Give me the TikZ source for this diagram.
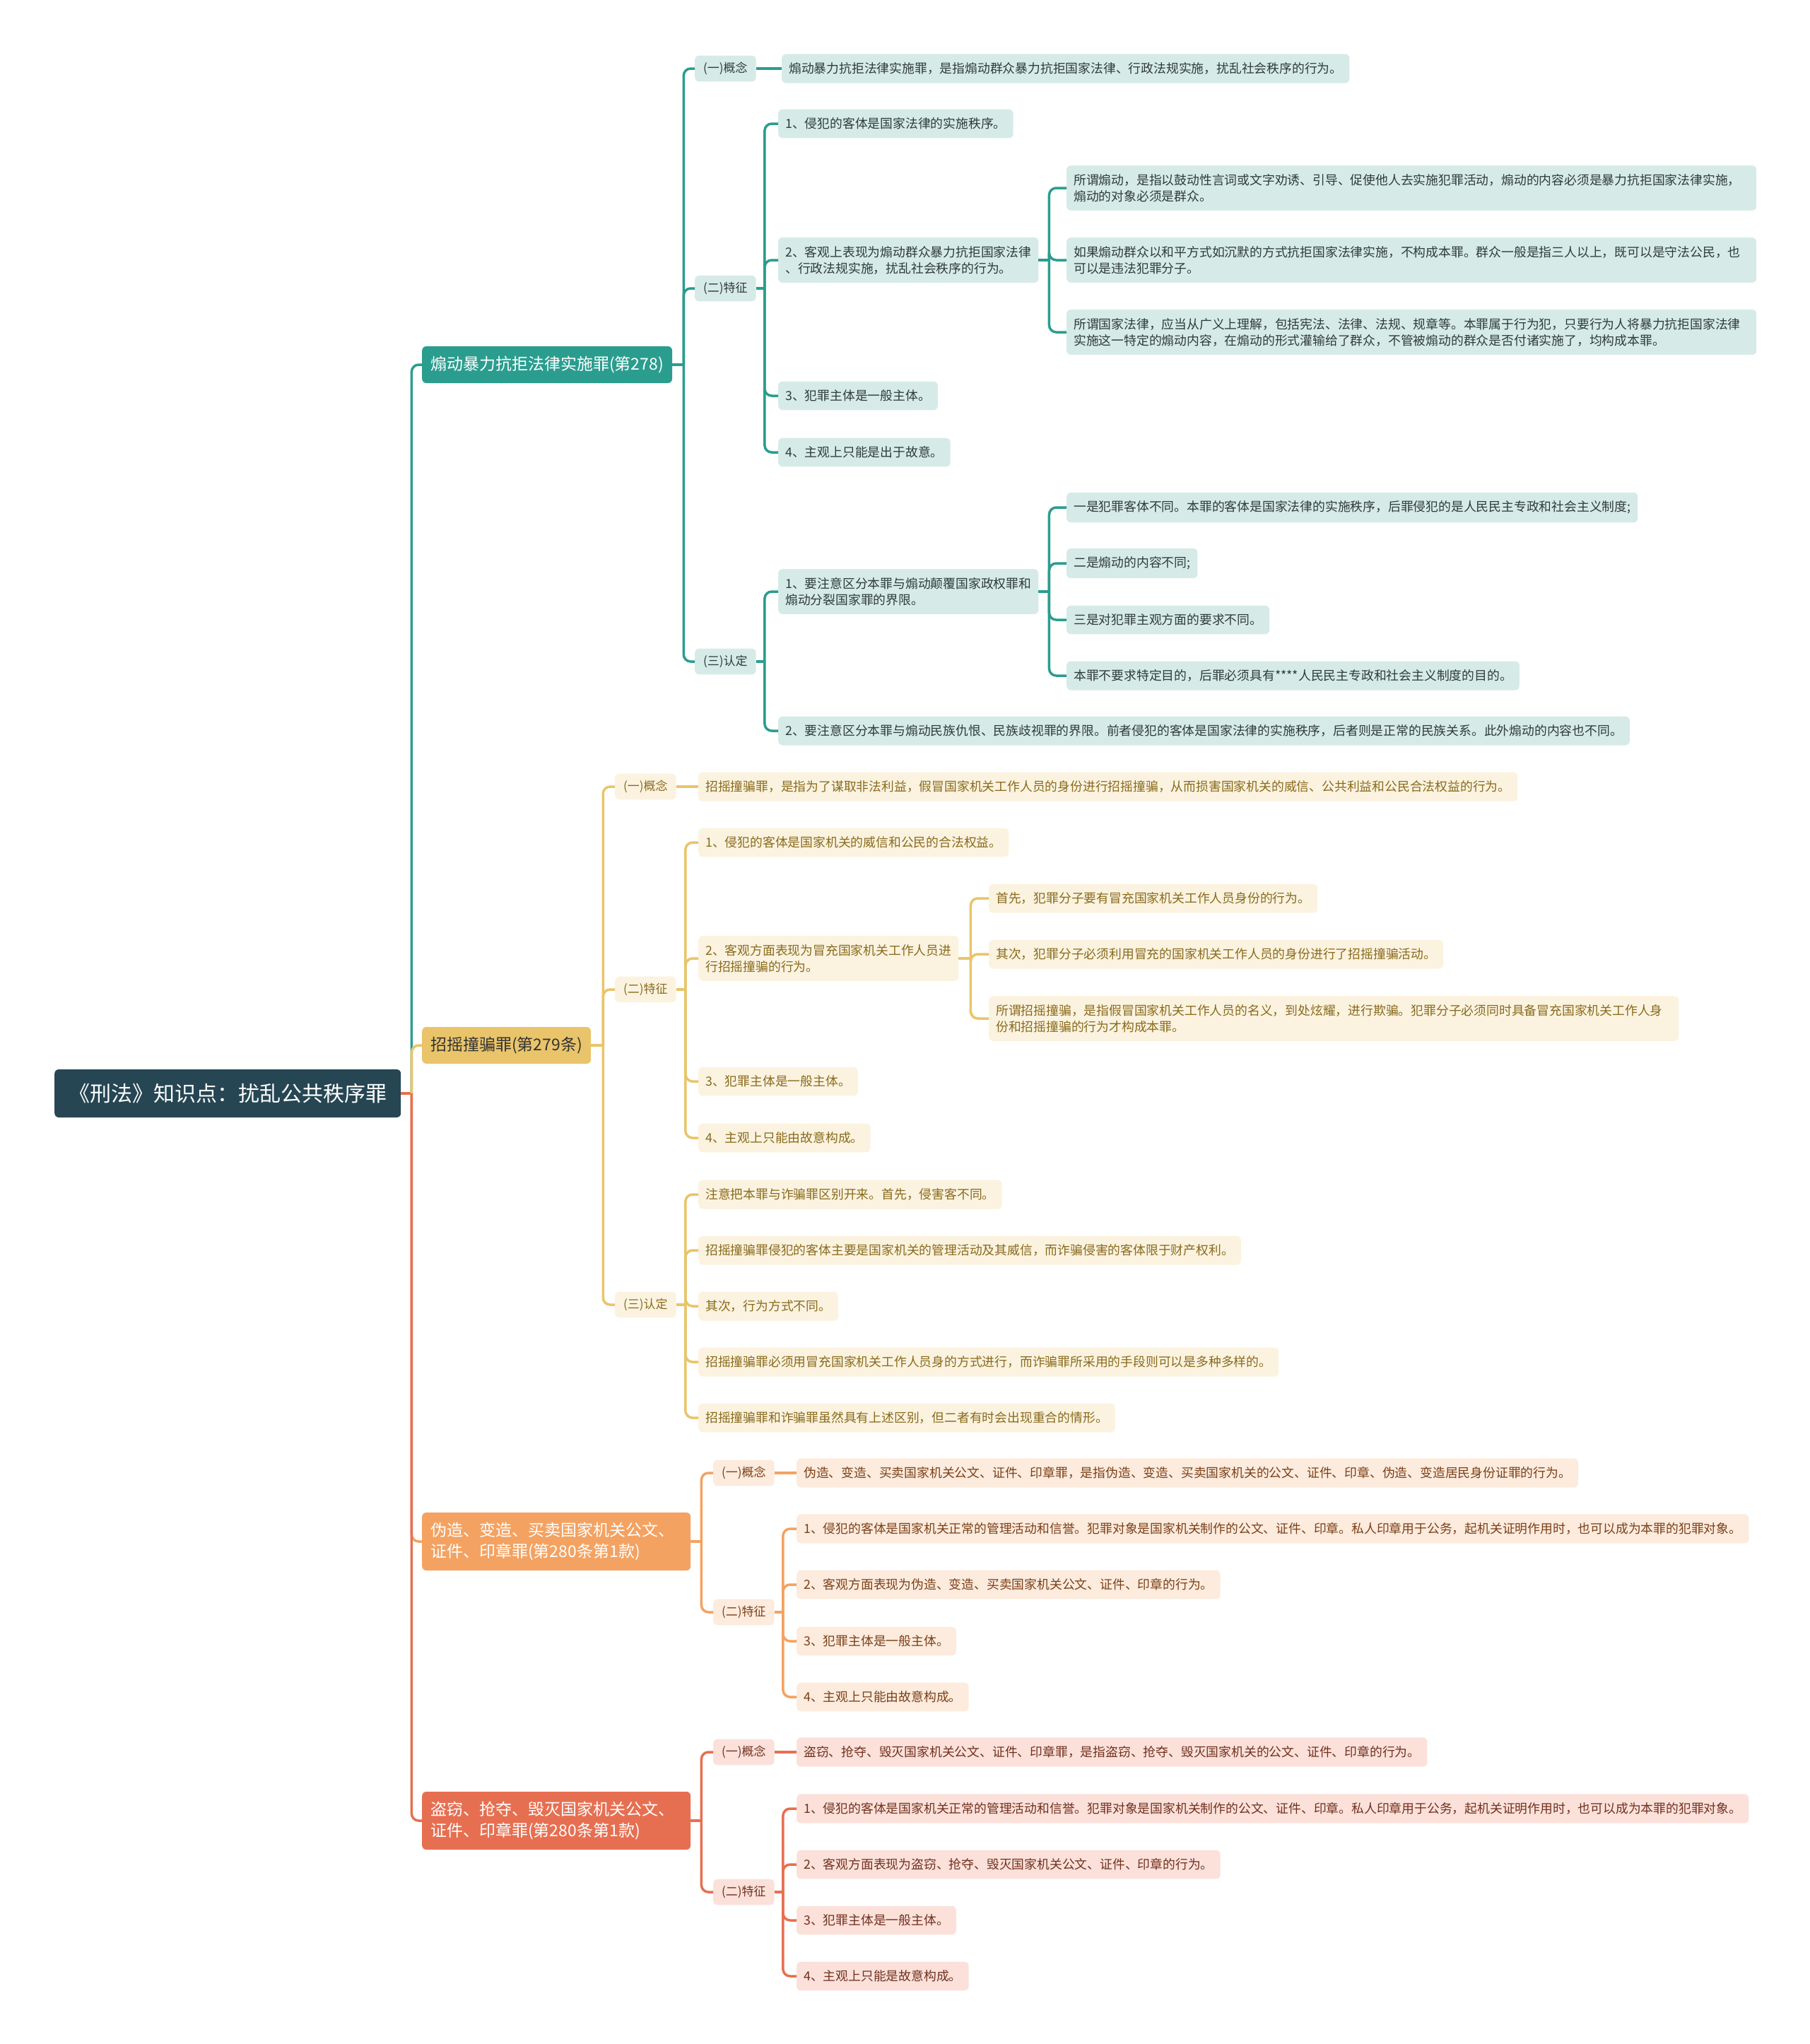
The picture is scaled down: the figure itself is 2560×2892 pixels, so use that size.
\documentclass[tikz,border=0pt]{standalone}
\usepackage{fontspec}
\setmainfont{Noto Sans CJK SC}
\usepackage{xcolor}

\definecolor{rootc}{HTML}{264653}
\definecolor{tealc}{HTML}{2A9D8F}
\definecolor{goldc}{HTML}{E9C46A}
\definecolor{orangec}{HTML}{F4A261}
\definecolor{redc}{HTML}{E76F51}
\definecolor{tealfill}{HTML}{D6EBE8}
\definecolor{goldfill}{HTML}{FBF3E0}
\definecolor{orangefill}{HTML}{FDEBDD}
\definecolor{redfill}{HTML}{FBE1DA}
\definecolor{tealtext}{HTML}{2F3B3A}
\definecolor{goldtext}{HTML}{8A6A1C}
\definecolor{orangetext}{HTML}{7A4019}
\definecolor{redtext}{HTML}{72301F}

\begin{document}
\begin{tikzpicture}[x=1pt, y=-1pt,
  box/.style={rounded corners=6pt, anchor=west, align=left},
  rootbox/.style={box, fill=rootc, text=white, font=\fontsize{30}{36}\selectfont, inner xsep=20pt, inner ysep=20pt},
  topic/.style={box, font=\fontsize{23}{30}\selectfont, inner xsep=12pt, inner ysep=14pt},
  tag/.style={box, font=\fontsize{17}{22}\selectfont, inner xsep=12pt, inner ysep=9.5pt},
  leaf/.style={box, font=\fontsize{17.8}{23}\selectfont, inner xsep=10pt, inner ysep=12pt},
  wide/.style={text width=956pt},
  teal/.style={fill=tealfill, text=tealtext},
  gold/.style={fill=goldfill, text=goldtext},
  orange/.style={fill=orangefill, text=orangetext},
  red/.style={fill=redfill, text=redtext},
  link/.style={line width=3.5pt, rounded corners=10pt},
]
\useasboundingbox (0,0) rectangle (2560,2892);

  % Root
  \node[rootbox] (root) at (77, 1547) {《刑法》知识点：扰乱公共秩序罪};

  % Four branches
  \node[topic, fill=tealc, text=white] (b1) at (597, 516) {煽动暴力抗拒法律实施罪(第278)};
  \node[topic, fill=goldc, text=black!80] (b2) at (597, 1479) {招摇撞骗罪(第279条)};
  \node[topic, fill=orangec, text=white, text width=356pt] (b3) at (597, 2181) {伪造、变造、买卖国家机关公文、\\证件、印章罪(第280条第1款)};
  \node[topic, fill=redc, text=white, text width=356pt] (b4) at (597, 2576) {盗窃、抢夺、毁灭国家机关公文、\\证件、印章罪(第280条第1款)};

  \draw[link, redc] (root.east) -- ++(15,0) coordinate (jr);
  \draw[link, tealc] (jr) |- (b1.west);
  \draw[link, goldc] (jr) |- (b2.west);
  \draw[link, orangec] (jr) |- (b3.west);
  \draw[link, redc] (jr) |- (b4.west);

  % Branch 1
  \node[tag, teal] (b1t1) at (983, 97) {(一)概念};
  \node[tag, teal] (b1t2) at (983, 408) {(二)特征};
  \node[tag, teal] (b1t3) at (983, 936) {(三)认定};
  \node[leaf, teal] (b1c) at (1106, 97) {煽动暴力抗拒法律实施罪，是指煽动群众暴力抗拒国家法律、行政法规实施，扰乱社会秩序的行为。};
  \node[leaf, teal] (b1f1) at (1101, 175) {1、侵犯的客体是国家法律的实施秩序。};
  \node[leaf, teal] (b1f2) at (1101, 368) {2、客观上表现为煽动群众暴力抗拒国家法律\\、行政法规实施，扰乱社会秩序的行为。};
  \node[leaf, teal] (b1f3) at (1101, 560) {3、犯罪主体是一般主体。};
  \node[leaf, teal] (b1f4) at (1101, 640) {4、主观上只能是出于故意。};
  \node[leaf, teal, wide] (b1s1) at (1509, 266) {所谓煽动，是指以鼓动性言词或文字劝诱、引导、促使他人去实施犯罪活动，煽动的内容必须是暴力抗拒国家法律实施，\\煽动的对象必须是群众。};
  \node[leaf, teal, wide] (b1s2) at (1509, 368) {如果煽动群众以和平方式如沉默的方式抗拒国家法律实施，不构成本罪。群众一般是指三人以上，既可以是守法公民，也\\可以是违法犯罪分子。};
  \node[leaf, teal, wide] (b1s3) at (1509, 470) {所谓国家法律，应当从广义上理解，包括宪法、法律、法规、规章等。本罪属于行为犯，只要行为人将暴力抗拒国家法律\\实施这一特定的煽动内容，在煽动的形式灌输给了群众，不管被煽动的群众是否付诸实施了，均构成本罪。};
  \node[leaf, teal] (b1r1) at (1101, 837) {1、要注意区分本罪与煽动颠覆国家政权罪和\\煽动分裂国家罪的界限。};
  \node[leaf, teal] (b1r2) at (1101, 1034) {2、要注意区分本罪与煽动民族仇恨、民族歧视罪的界限。前者侵犯的客体是国家法律的实施秩序，后者则是正常的民族关系。此外煽动的内容也不同。};
  \node[leaf, teal] (b1d1) at (1509, 718) {一是犯罪客体不同。本罪的客体是国家法律的实施秩序，后罪侵犯的是人民民主专政和社会主义制度;};
  \node[leaf, teal] (b1d2) at (1509, 797) {二是煽动的内容不同;};
  \node[leaf, teal] (b1d3) at (1509, 877) {三是对犯罪主观方面的要求不同。};
  \node[leaf, teal] (b1d4) at (1509, 956) {本罪不要求特定目的，后罪必须具有****人民民主专政和社会主义制度的目的。};

  \draw[link, tealc] (b1.east) -- ++(16,0) coordinate (j1);
  \foreach \c in {b1t1,b1t2,b1t3} \draw[link, tealc] (j1) |- (\c.west);
  \draw[link, tealc] (b1t1.east) -- (b1c.west);
  \draw[link, tealc] (b1t2.east) -- ++(12,0) coordinate (j12);
  \foreach \c in {b1f1,b1f2,b1f3,b1f4} \draw[link, tealc] (j12) |- (\c.west);
  \draw[link, tealc] (b1f2.east) -- ++(15,0) coordinate (j122);
  \foreach \c in {b1s1,b1s2,b1s3} \draw[link, tealc] (j122) |- (\c.west);
  \draw[link, tealc] (b1t3.east) -- ++(12,0) coordinate (j13);
  \foreach \c in {b1r1,b1r2} \draw[link, tealc] (j13) |- (\c.west);
  \draw[link, tealc] (b1r1.east) -- ++(15,0) coordinate (j131);
  \foreach \c in {b1d1,b1d2,b1d3,b1d4} \draw[link, tealc] (j131) |- (\c.west);

  % Branch 2
  \node[tag, gold] (b2t1) at (870, 1113) {(一)概念};
  \node[tag, gold] (b2t2) at (870, 1400) {(二)特征};
  \node[tag, gold] (b2t3) at (870, 1846) {(三)认定};
  \node[leaf, gold] (b2c) at (988, 1113) {招摇撞骗罪，是指为了谋取非法利益，假冒国家机关工作人员的身份进行招摇撞骗，从而损害国家机关的威信、公共利益和公民合法权益的行为。};
  \node[leaf, gold] (b2f1) at (988, 1192) {1、侵犯的客体是国家机关的威信和公民的合法权益。};
  \node[leaf, gold] (b2f2) at (988, 1356) {2、客观方面表现为冒充国家机关工作人员进\\行招摇撞骗的行为。};
  \node[leaf, gold] (b2f3) at (988, 1530) {3、犯罪主体是一般主体。};
  \node[leaf, gold] (b2f4) at (988, 1610) {4、主观上只能由故意构成。};
  \node[leaf, gold] (b2s1) at (1399, 1271) {首先，犯罪分子要有冒充国家机关工作人员身份的行为。};
  \node[leaf, gold] (b2s2) at (1399, 1350) {其次，犯罪分子必须利用冒充的国家机关工作人员的身份进行了招摇撞骗活动。};
  \node[leaf, gold, wide] (b2s3) at (1399, 1441) {所谓招摇撞骗，是指假冒国家机关工作人员的名义，到处炫耀，进行欺骗。犯罪分子必须同时具备冒充国家机关工作人身\\份和招摇撞骗的行为才构成本罪。};
  \node[leaf, gold] (b2r1) at (988, 1690) {注意把本罪与诈骗罪区别开来。首先，侵害客不同。};
  \node[leaf, gold] (b2r2) at (988, 1769) {招摇撞骗罪侵犯的客体主要是国家机关的管理活动及其威信，而诈骗侵害的客体限于财产权利。};
  \node[leaf, gold] (b2r3) at (988, 1848) {其次，行为方式不同。};
  \node[leaf, gold] (b2r4) at (988, 1927) {招摇撞骗罪必须用冒充国家机关工作人员身的方式进行，而诈骗罪所采用的手段则可以是多种多样的。};
  \node[leaf, gold] (b2r5) at (988, 2006) {招摇撞骗罪和诈骗罪虽然具有上述区别，但二者有时会出现重合的情形。};

  \draw[link, goldc] (b2.east) -- ++(17,0) coordinate (j2);
  \foreach \c in {b2t1,b2t2,b2t3} \draw[link, goldc] (j2) |- (\c.west);
  \draw[link, goldc] (b2t1.east) -- (b2c.west);
  \draw[link, goldc] (b2t2.east) -- ++(13,0) coordinate (j22);
  \foreach \c in {b2f1,b2f2,b2f3,b2f4} \draw[link, goldc] (j22) |- (\c.west);
  \draw[link, goldc] (b2f2.east) -- ++(17,0) coordinate (j222);
  \foreach \c in {b2s1,b2s2,b2s3} \draw[link, goldc] (j222) |- (\c.west);
  \draw[link, goldc] (b2t3.east) -- ++(13,0) coordinate (j23);
  \foreach \c in {b2r1,b2r2,b2r3,b2r4,b2r5} \draw[link, goldc] (j23) |- (\c.west);

  % Branch 3
  \node[tag, orange] (b3t1) at (1009, 2084) {(一)概念};
  \node[tag, orange] (b3t2) at (1009, 2281) {(二)特征};
  \node[leaf, orange] (b3c) at (1127, 2084) {伪造、变造、买卖国家机关公文、证件、印章罪，是指伪造、变造、买卖国家机关的公文、证件、印章、伪造、变造居民身份证罪的行为。};
  \node[leaf, orange] (b3f1) at (1127, 2163) {1、侵犯的客体是国家机关正常的管理活动和信誉。犯罪对象是国家机关制作的公文、证件、印章。私人印章用于公务，起机关证明作用时，也可以成为本罪的犯罪对象。};
  \node[leaf, orange] (b3f2) at (1127, 2242) {2、客观方面表现为伪造、变造、买卖国家机关公文、证件、印章的行为。};
  \node[leaf, orange] (b3f3) at (1127, 2322) {3、犯罪主体是一般主体。};
  \node[leaf, orange] (b3f4) at (1127, 2401) {4、主观上只能由故意构成。};

  \draw[link, orangec] (b3.east) -- ++(15,0) coordinate (j3);
  \foreach \c in {b3t1,b3t2} \draw[link, orangec] (j3) |- (\c.west);
  \draw[link, orangec] (b3t1.east) -- (b3c.west);
  \draw[link, orangec] (b3t2.east) -- ++(12,0) coordinate (j32);
  \foreach \c in {b3f1,b3f2,b3f3,b3f4} \draw[link, orangec] (j32) |- (\c.west);

  % Branch 4
  \node[tag, red] (b4t1) at (1009, 2479) {(一)概念};
  \node[tag, red] (b4t2) at (1009, 2677) {(二)特征};
  \node[leaf, red] (b4c) at (1127, 2479) {盗窃、抢夺、毁灭国家机关公文、证件、印章罪，是指盗窃、抢夺、毁灭国家机关的公文、证件、印章的行为。};
  \node[leaf, red] (b4f1) at (1127, 2559) {1、侵犯的客体是国家机关正常的管理活动和信誉。犯罪对象是国家机关制作的公文、证件、印章。私人印章用于公务，起机关证明作用时，也可以成为本罪的犯罪对象。};
  \node[leaf, red] (b4f2) at (1127, 2638) {2、客观方面表现为盗窃、抢夺、毁灭国家机关公文、证件、印章的行为。};
  \node[leaf, red] (b4f3) at (1127, 2717) {3、犯罪主体是一般主体。};
  \node[leaf, red] (b4f4) at (1127, 2796) {4、主观上只能是故意构成。};

  \draw[link, redc] (b4.east) -- ++(15,0) coordinate (j4);
  \foreach \c in {b4t1,b4t2} \draw[link, redc] (j4) |- (\c.west);
  \draw[link, redc] (b4t1.east) -- (b4c.west);
  \draw[link, redc] (b4t2.east) -- ++(12,0) coordinate (j42);
  \foreach \c in {b4f1,b4f2,b4f3,b4f4} \draw[link, redc] (j42) |- (\c.west);
\end{tikzpicture}
\end{document}
